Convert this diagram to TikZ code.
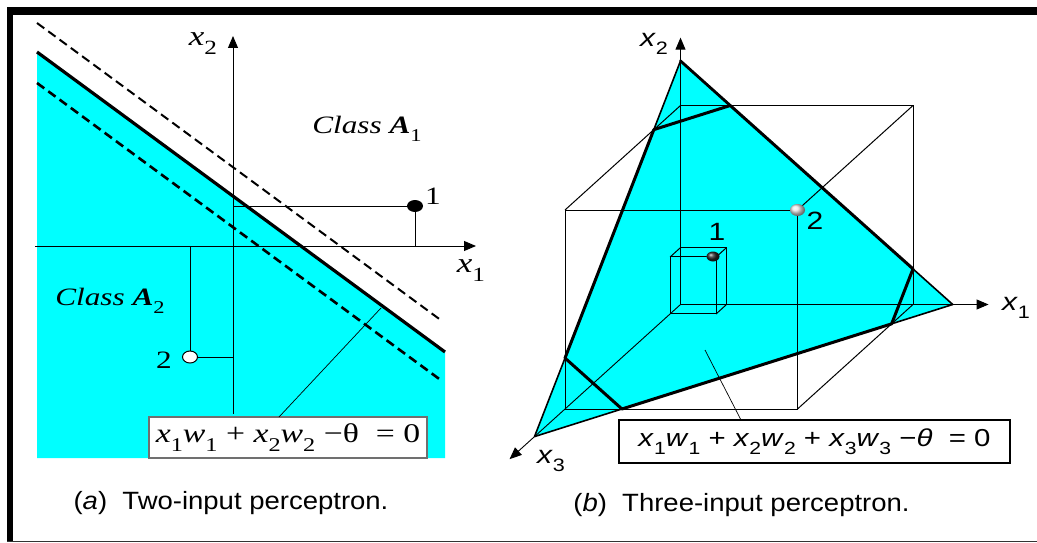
\documentclass[tikz,border=0pt]{standalone}
\usepackage{fontspec}
\usepackage{graphicx}
\setmainfont{Liberation Serif}
\newfontfamily\tms[FakeStretch=1.25]{Liberation Serif}
\newfontfamily\arl[FakeStretch=1.2]{Liberation Sans}
\newfontfamily\arlc[FakeStretch=1.1]{Liberation Sans}
\usepackage{xcolor}
\usepackage{tikz}
\usetikzlibrary{arrows.meta}
\definecolor{cyn}{HTML}{00FFFF}
\definecolor{boxln}{HTML}{707070}
\newcommand{\fsz}[1]{\fontsize{#1}{#1}\selectfont}
\newcommand{\sbs}[1]{\raisebox{-0.32em}{\scalebox{0.72}{#1}}}
\newcommand{\vx}[1]{\textit{x}\sbs{#1}}
\newcommand{\vw}[1]{\textit{w}\sbs{#1}}
\tikzset{
  ax/.style   ={-{Triangle[length=12pt,width=10pt]}, line width=0.9pt},
  edg/.style  ={line width=1pt},
  lead/.style ={line width=0.7pt},
  bnd/.style  ={line width=3.2pt},
  dsh/.style  ={line width=2pt, dash pattern=on 9pt off 5pt},
  hex/.style  ={line width=3pt, line join=round},
  lblT/.style ={inner sep=0pt, font=\tms\fsz{25}},
  lblA/.style ={inner sep=0pt, font=\arl\fsz{25}},
  captxt/.style={inner sep=0pt, font=\arlc\fsz{25}},
  eqbx/.style ={draw, fill=white, line width=1.2pt, inner sep=0pt},
}

\begin{document}
\begin{tikzpicture}[x=1pt,y=1pt]
\useasboundingbox (0,0) rectangle (1037,-543);
% frame
\fill (7,-7.5) rectangle (1037,-15.5);
\fill (7,-7.5) rectangle (12.5,-542);
\draw[line width=1pt, black!80] (7,-541.5) -- (1037,-541.5);

% (a) two inputs
\fill[cyn] (37,-52) -- (445,-352) -- (445,-458) -- (37,-458) -- cycle;
\draw[ax] (35,-246) -- (476,-246);
\draw[ax] (233,-414) -- (233,-36);
\draw[dsh] (37,-23) -- (442,-321);
\draw[dsh, line width=2.6pt] (37,-83) -- (442,-381);
\draw[bnd] (37,-52) -- (445,-352);
\coordinate (p1) at (415,-206);
\coordinate (p2) at (190,-357);
\draw[edg] (233,-206) -- (p1) -- (415,-246);
\draw[edg] (233,-357) -- (p2) -- (190,-246);
\fill (p1) ellipse (8pt and 6pt);
\draw[edg, fill=white] (p2) ellipse (7.5pt and 6pt);
\node[lblT, font=\tms\fsz{28}] (lx2) at (203,-44) {\vx{2}};
\node[lblT, font=\tms\fsz{28}] (lx1) at (471,-271) {\vx{1}};
\node[lblT] (n1) at (433,-196) {1};
\node[lblT] (n2) at (164,-360) {2};
\node[lblT] (ca1) at (367,-129) {\textit{Class} \textbf{\textit{A}}\sbs{1}};
\node[lblT] (ca2) at (110,-301) {\textit{Class} \textbf{\textit{A}}\sbs{2}};
\node[eqbx, draw=boxln, minimum width=278pt, minimum height=41pt, font=\tms\fsz{27}]
  (eqa) at (288,-437.5) {\vx{1}\vw{1} + \vx{2}\vw{2} −θ~~= 0};
\coordinate (la) at (279,-417);
\coordinate (ta) at (381,-308);
\draw[lead] (la) -- (ta);
\node[captxt] (cpa) at (231,-503) {(\textit{a})\ \ Two-input perceptron.};

% (b) three inputs
\begin{scope}[shift={(680.5pt,-304.5pt)}, x={(232.5pt,0pt)}, y={(0pt,199pt)}, z={(-115.5pt,-104.5pt)}]
\fill[cyn] (1.171,0,0) -- (0,1.224,0) -- (0,0,1.264) -- cycle;
\draw[edg] (0,1,0) -- (1,1,0) -- (1,0,0);
\draw[edg] (0,0,1) -- (1,0,1) -- (1,1,1) -- (0,1,1) -- cycle;
\draw[edg] (1,0,0) -- (1,0,1) (1,1,0) -- (1,1,1) (0,1,0) -- (0,1,1);
\draw[edg] (0,0.286,0) -- (0.198,0.286,0) -- (0.198,0,0);
\draw[edg] (0,0,0.09) -- (0.198,0,0.09) -- (0.198,0.286,0.09) -- (0,0.286,0.09) -- cycle;
\draw[edg] (0.198,0,0) -- (0.198,0,0.09) (0.198,0.286,0) -- (0.198,0.286,0.09) (0,0.286,0) -- (0,0.286,0.09);
\draw[ax] (0,0,0) -- (1.325,0,0);
\draw[ax] (0,0,0) -- (0,1.341,0);
\draw[ax] (0,0,0) -- (0,0,1.48);
\draw[line width=1.6pt, line join=round] (1.171,0,0) -- (0,1.224,0) -- (0,0,1.264) -- cycle;
\draw[line width=2.8pt, line cap=round] (0,1.224,0) -- (0.214,1,0);
\draw[hex] (0.214,1,0) -- (1,0.179,0) -- (1,0,0.185) -- (0.245,0,1) -- (0,0.256,1) -- (0,1,0.231) -- cycle;
\coordinate (q2) at (1,1,1);
\end{scope}
\coordinate (q1) at (713,-256.5);
\shade[ball color=gray!20] (q2) ellipse (7.5pt and 6pt);
\shade[ball color=black!85] (q1) ellipse (6.5pt and 5pt);
\node[lblA] (rx2) at (654,-44) {\vx{2}};
\node[lblA] (rx1) at (1016,-308) {\vx{1}};
\node[lblA] (rx3) at (551,-461) {\vx{3}};
\node[lblA] (m1) at (717,-232) {1};
\node[lblA] (m2) at (815,-221) {2};
\node[eqbx, draw=black, minimum width=391pt, minimum height=43pt, font=\arl\fsz{24.5}]
  (eqc) at (814.5,-441.5) {\vx{1}\vw{1} + \vx{2}\vw{2} + \vx{3}\vw{3} −\textit{θ}~~= 0};
\coordinate (lc) at (741,-420);
\coordinate (tc) at (705,-350);
\draw[lead] (lc) -- (tc);
\node[captxt] (cpb) at (741.5,-505) {(\textit{b})\ \ Three-input perceptron.};
\end{tikzpicture}
\end{document}
